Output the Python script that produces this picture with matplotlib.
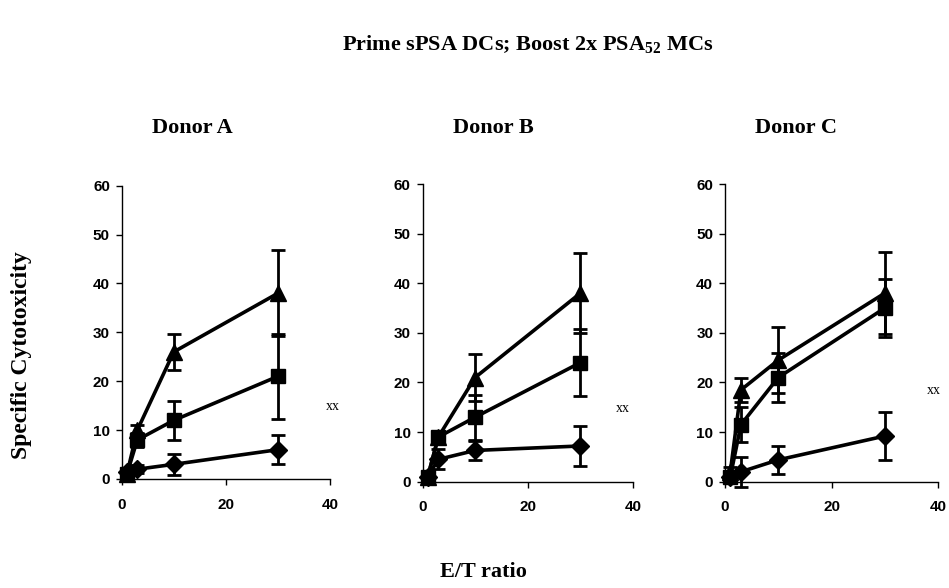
import matplotlib
matplotlib.use("Agg")
import matplotlib.pyplot as plt

plt.rcParams["mathtext.fontset"] = "custom"
plt.rcParams["mathtext.rm"] = "Liberation Serif:bold"
plt.rcParams["mathtext.bf"] = "Liberation Serif:bold"

# E/T ratios
et_ratio = [1, 3, 10, 30]

donors = ["Donor A", "Donor B", "Donor C"]

# Triangle series
tri_A = [1.0, 10.0, 26.0, 38.0]
tri_A_err = [0.5, 1.0, 3.7, 8.8]
tri_B = [1.0, 9.0, 21.0, 38.0]
tri_B_err = [0.5, 1.0, 4.8, 8.0]
tri_C = [2.0, 18.5, 24.5, 38.0]
tri_C_err = [1.0, 2.5, 6.6, 8.3]

# Square series
sq_A = [1.0, 8.0, 12.0, 21.0]
sq_A_err = [0.5, 1.5, 4.0, 8.7]
sq_B = [1.0, 9.0, 13.0, 24.0]
sq_B_err = [0.5, 1.0, 4.5, 6.8]
sq_C = [1.0, 11.5, 21.0, 35.0]
sq_C_err = [1.0, 3.5, 5.0, 5.8]

# Diamond series
dia_A = [1.5, 2.0, 3.0, 6.0]
dia_A_err = [0.5, 0.8, 2.2, 3.0]
dia_B = [1.0, 4.5, 6.3, 7.2]
dia_B_err = [0.5, 2.0, 2.0, 4.0]
dia_C = [1.0, 2.0, 4.4, 9.2]
dia_C_err = [1.0, 3.0, 2.8, 4.8]

panels = [
    (tri_A, tri_A_err, sq_A, sq_A_err, dia_A, dia_A_err),
    (tri_B, tri_B_err, sq_B, sq_B_err, dia_B, dia_B_err),
    (tri_C, tri_C_err, sq_C, sq_C_err, dia_C, dia_C_err),
]

W, H = 949, 588
fig = plt.figure(figsize=(W / 100, H / 100), dpi=100)

# axes pixel boxes: left, right, bottom(y=0), top(y=60)
boxes = [(121.7, 330, 479, 185.7), (422.5, 633, 481.7, 184), (725, 938, 481.7, 184)]
xx_pos = [(333, 407), (623, 408), (934, 391)]
title_pos = [(192, 128), (493, 128), (796, 128)]

serif = ["Liberation Serif", "DejaVu Serif"]
sans = ["Liberation Sans", "DejaVu Sans"]

for i, (box, data) in enumerate(zip(boxes, panels)):
    l, r, b, t = box
    ax = fig.add_axes([l / W, 1 - b / H, (r - l) / W, (b - t) / H])
    tri, tri_e, sq, sq_e, dia, dia_e = data
    for y, e, m, ms in [(dia, dia_e, "D", 9), (sq, sq_e, "s", 10), (tri, tri_e, "^", 11)]:
        ax.errorbar(et_ratio, y, yerr=e, color="black", marker=m, markersize=ms,
                    linewidth=2.6, elinewidth=2.0, capsize=5, capthick=2.0,
                    clip_on=False, zorder=3)
    ax.set_xlim(0, 40)
    ax.set_ylim(0, 60)
    ax.set_xticks([0, 20, 40])
    ax.set_yticks(range(0, 61, 10))
    for s in ["top", "right"]:
        ax.spines[s].set_visible(False)
    for s in ["left", "bottom"]:
        ax.spines[s].set_linewidth(1.0)
    ax.tick_params(direction="out", length=4.5, width=1.0, labelsize=11)
    ax.tick_params(axis="y", pad=4)
    ax.tick_params(axis="x", pad=9)
    for lab in ax.get_xticklabels() + ax.get_yticklabels():
        lab.set_fontfamily(sans)
        lab.set_fontweight("bold")
    fig.text(title_pos[i][0] / W, 1 - title_pos[i][1] / H, donors[i], fontfamily=serif,
             fontweight="bold", fontsize=16, ha="center", va="center")
    fig.text(xx_pos[i][0] / W, 1 - xx_pos[i][1] / H, "xx", fontfamily=serif,
             fontsize=10, ha="center", va="center")

fig.text(528 / W, 1 - 45 / H, r"Prime sPSA DCs; Boost 2x PSA$_{\mathrm{52}}$ MCs",
         fontfamily=serif, fontweight="bold", fontsize=16, ha="center", va="center")
fig.text(22 / W, 1 - 355 / H, "Specific Cytotoxicity", fontfamily=serif,
         fontweight="bold", fontsize=17, rotation=90, ha="center", va="center")
fig.text(483 / W, 1 - 572 / H, "E/T ratio", fontfamily=serif,
         fontweight="bold", fontsize=16, ha="center", va="center")

fig.savefig("out.png", dpi=100)
